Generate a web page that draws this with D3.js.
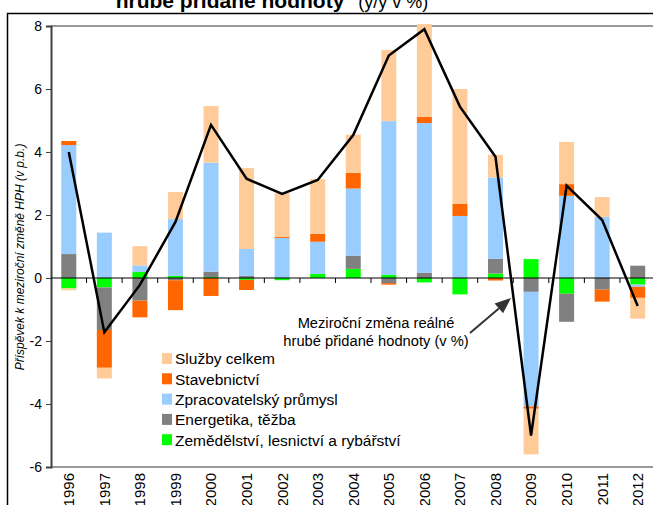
<!DOCTYPE html>
<html><head><meta charset="utf-8">
<script src="https://cdn.jsdelivr.net/npm/d3@7"></script>
<style>
html,body{margin:0;padding:0;background:#fff;overflow:hidden;}
svg{display:block;font-family:"Liberation Sans",Arial,sans-serif;}
</style></head>
<body>
<svg id="c" width="653" height="505"></svg>
<script>
const years = ["1996","1997","1998","1999","2000","2001","2002","2003","2004","2005","2006","2007","2008","2009","2010","2011","2012"];
const zemedelstvi    = [-0.33,-0.30, 0.19, 0.07, 0.03,-0.06,-0.07, 0.13, 0.29, 0.10,-0.14,-0.52, 0.14, 0.60,-0.50, 0.00,-0.21];
const energetika     = [ 0.76,-1.35,-0.72,-0.07, 0.17, 0.07, 0.00, 0.00, 0.42,-0.16, 0.17, 0.00, 0.47,-0.44,-0.89,-0.37, 0.39];
const zpracovatelsky = [ 3.46, 1.44, 0.21, 1.80, 3.46, 0.85, 1.27, 1.02, 2.13, 4.88, 4.75, 1.97, 2.58,-3.64, 2.61, 1.94,-0.07];
const stavebnictvi   = [ 0.13,-1.20,-0.53,-0.95,-0.57,-0.32, 0.03, 0.25, 0.50,-0.05, 0.19, 0.38,-0.08,-0.07, 0.37,-0.38,-0.35];
const sluzby         = [-0.06,-0.34, 0.61, 0.86, 1.80, 2.57, 1.39, 1.74, 1.21, 2.26, 2.95, 3.65, 0.72,-1.45, 1.34, 0.63,-0.66];
const hph            = [ 4.00,-1.72,-0.22, 1.78, 4.86, 3.15, 2.67, 3.11, 4.54, 7.06, 7.90, 5.44, 3.85,-5.00, 2.93, 1.84,-0.89];
const yTicks = [-6,-4,-2,0,2,4,6,8];
const seriesNames = ["Zemědělství, lesnictví a rybářství","Energetika, těžba","Zpracovatelský průmysl","Stavebnictví","Služby celkem"];
const seriesKeys = ["zem","ene","zpr","sta","slu"];
const seriesColors = ["#00FF00","#808080","#99CCFF","#FF6600","#FFCC99"];
const titleBold = "hrubé přidané hodnoty";
const titleNormal = "(y/y v %)";
const yLabel = "Příspěvek k meziroční změně HPH (v p.b.)";
const annot = ["Meziroční změna reálné","hrubé přidané hodnoty (v %)"];

const rows = years.map((y,i)=>({year:y, zem:zemedelstvi[i], ene:energetika[i], zpr:zpracovatelsky[i], sta:stavebnictvi[i], slu:sluzby[i], hph:hph[i]}));

const svg = d3.select("#c");
const W=653,H=505;
const plotL=51, plotT=26, plotB=467;

const x = d3.scaleBand().domain(years).range([51,655.5]).paddingInner(0.578).paddingOuter(0.289);
const y = d3.scaleLinear().domain([-6,8]).range([plotB,plotT]);

// outer frame
svg.append("path").attr("d",`M7.5,${H+5}V13.5H${W+5}`).attr("fill","none").attr("stroke","#000").attr("stroke-width",1.5);

// title
const t = svg.append("text").attr("x",272).attr("y",8).attr("text-anchor","middle").attr("fill","#000");
t.append("tspan").attr("font-weight","bold").attr("font-size",21).text(titleBold);
t.append("tspan").attr("font-size",18).attr("dx",14).text(titleNormal);

// plot area border (top & bottom grey)
svg.append("line").attr("x1",plotL).attr("x2",W).attr("y1",y(8)).attr("y2",y(8)).attr("stroke","#999").attr("stroke-width",2);
svg.append("line").attr("x1",plotL).attr("x2",W).attr("y1",y(-6)).attr("y2",y(-6)).attr("stroke","#999").attr("stroke-width",2);

// bars
const stack = d3.stack().keys(seriesKeys).offset(d3.stackOffsetDiverging);
const stacked = stack(rows);
svg.append("g").selectAll("g").data(stacked).join("g")
  .attr("fill",(d,i)=>seriesColors[i])
  .selectAll("rect").data(d=>d).join("rect")
  .attr("x",d=>x(d.data.year))
  .attr("width",x.bandwidth())
  .attr("y",d=>y(Math.max(d[0],d[1])))
  .attr("height",d=>Math.abs(y(d[0])-y(d[1])));

// y axis
const yAxis = d3.axisLeft(y).tickValues(yTicks).tickSize(5).tickPadding(4).tickFormat(d3.format("d"));
const gy = svg.append("g").attr("transform",`translate(${plotL},0)`).call(yAxis);
gy.select(".domain").attr("stroke","#404040").attr("stroke-width",2);
gy.selectAll(".tick line").attr("stroke","#404040");
gy.selectAll(".tick text").attr("font-size",14).attr("font-family","Liberation Sans, Arial, sans-serif").attr("fill","#000").text(d=>d<0?"-"+Math.abs(d):d);

// zero line with category ticks
const x0 = x(years[0]) - x.step()*x.paddingInner()/2;
const zx = d3.scaleLinear().domain([0,17]).range([x0, x0 + 17*x.step()]);
svg.append("line").attr("x1",plotL).attr("x2",W).attr("y1",y(0)).attr("y2",y(0)).attr("stroke","#000").attr("stroke-width",1);
svg.append("g").selectAll("line").data(d3.range(1,17)).join("line")
  .attr("x1",d=>zx(d)).attr("x2",d=>zx(d)).attr("y1",y(0)).attr("y2",y(0)+5).attr("stroke","#000").attr("stroke-width",1);

// line
const line = d3.line().x(d=>x(d.year)+x.bandwidth()/2).y(d=>y(d.hph));
svg.append("path").datum(rows).attr("d",line).attr("fill","none").attr("stroke","#000").attr("stroke-width",2.5).attr("stroke-linejoin","miter");

// x labels
svg.append("g").selectAll("text").data(years).join("text")
  .attr("transform",d=>`translate(${x(d)+x.bandwidth()/2},473) rotate(-90)`)
  .attr("text-anchor","end").attr("dy","0.36em").attr("font-size",15).attr("fill","#000").text(d=>d);

// y label
svg.append("text").attr("transform","translate(24,257) rotate(-90)").attr("text-anchor","middle")
  .attr("font-size",12).attr("font-style","italic").attr("fill","#000").text(yLabel);

// legend
const leg = svg.append("g");
const legOrder = [4,3,2,1,0];
legOrder.forEach((si,k)=>{
  const yy = 353 + k*20.3;
  leg.append("rect").attr("x",162).attr("y",yy).attr("width",10).attr("height",11).attr("fill",seriesColors[si]);
  leg.append("text").attr("x",175).attr("y",yy+11.3).attr("font-size",15.5).attr("fill","#000").text(seriesNames[si]);
});

// annotation
svg.append("text").attr("x",376).attr("y",328).attr("text-anchor","middle").attr("font-size",14.7).attr("fill","#000").text(annot[0]);
svg.append("text").attr("x",376).attr("y",346).attr("text-anchor","middle").attr("font-size",14.7).attr("fill","#000").text(annot[1]);
const ax1=470, ay1=333, ax2=511, ay2=298;
const ang=Math.atan2(ay2-ay1,ax2-ax1), hl=16, hw=6.5;
const bx=ax2-hl*Math.cos(ang), by=ay2-hl*Math.sin(ang);
svg.append("line").attr("x1",ax1).attr("y1",ay1).attr("x2",bx).attr("y2",by).attr("stroke","#333").attr("stroke-width",2);
svg.append("path").attr("d",`M${ax2},${ay2}L${bx+hw*Math.sin(ang)},${by-hw*Math.cos(ang)}L${bx-hw*Math.sin(ang)},${by+hw*Math.cos(ang)}Z`).attr("fill","#333");
</script>
</body></html>
